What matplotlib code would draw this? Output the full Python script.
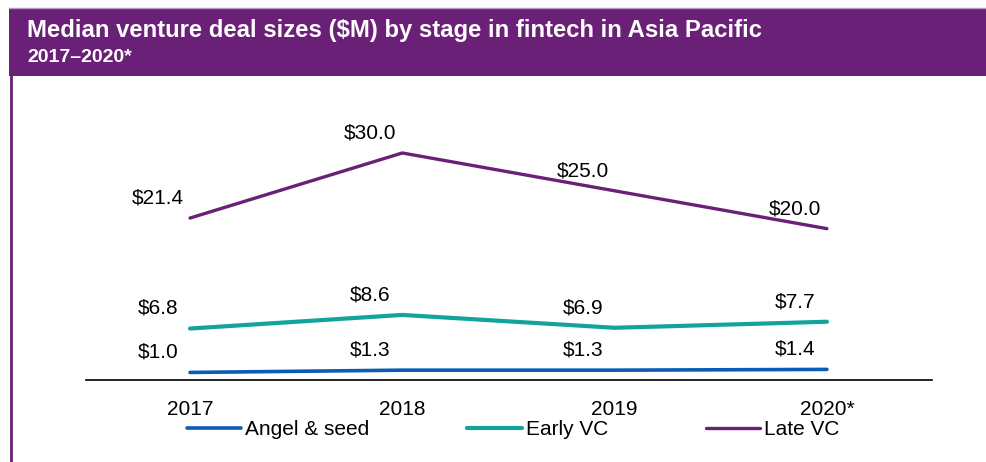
import matplotlib.pyplot as plt
from matplotlib.patches import Rectangle
from matplotlib.lines import Line2D

plt.rcParams['font.family'] = ['Liberation Sans', 'DejaVu Sans']

years = ['2017', '2018', '2019', '2020*']
angel_seed = [1.0, 1.3, 1.3, 1.4]
early_vc = [6.8, 8.6, 6.9, 7.7]
late_vc = [21.4, 30.0, 25.0, 20.0]

purple = '#6b2077'
blue = '#0b5cb5'
teal = '#12a39c'

W, H = 987, 462
fig = plt.figure(figsize=(W / 100, H / 100), dpi=100)

# header band and left rule
fig.patches.append(Rectangle((9 / W, 1 - 76 / H), 1, 68 / H, transform=fig.transFigure,
                             facecolor=purple, edgecolor='none', zorder=0))
fig.lines.append(Line2D([9 / W, 1], [1 - 8 / H, 1 - 8 / H], transform=fig.transFigure,
                        color='#b79bbd', lw=1))
fig.lines.append(Line2D([11 / W, 11 / W], [0, 1 - 76 / H], transform=fig.transFigure,
                        color=purple, lw=2))
fig.text(27 / W, 1 - 31 / H, 'Median venture deal sizes ($M) by stage in fintech in Asia Pacific',
         color='white', fontsize=17.2, fontweight='bold', va='center', ha='left')
fig.text(27 / W, 1 - 58 / H, '2017\u20132020*', color='white', fontsize=14,
         fontweight='bold', va='center', ha='left')

ax = fig.add_axes([86 / W, 1 - 380 / H, (932 - 86) / W, 280 / H])
x = list(range(len(years)))
series = [
    ('Angel & seed', angel_seed, blue, 2.6),
    ('Early VC', early_vc, teal, 3.0),
    ('Late VC', late_vc, purple, 2.4),
]
for name, vals, col, lw in series:
    ax.plot(x, vals, color=col, lw=lw, solid_capstyle='round', label=name)
    # value labels sit up and to the left of each point
    for xi, v in zip(x, vals):
        ax.annotate(f'${v:.1f}', (xi, v), xytext=(-23, 14.5), textcoords='offset points',
                    ha='center', va='center', fontsize=15)

ax.set_xlim(-0.49, 3.495)
ax.set_ylim(0, 37)
for s in ['top', 'right', 'left']:
    ax.spines[s].set_visible(False)
ax.spines['bottom'].set_linewidth(1.2)
ax.set_yticks([])
ax.set_xticks(x)
ax.set_xticklabels(years, fontsize=15)
ax.tick_params(axis='x', length=0, pad=14.5)

ax.legend(loc='center', bbox_to_anchor=(0.505, -0.178), ncol=3, frameon=False,
          fontsize=15, handlelength=2.6, handletextpad=0.2, columnspacing=4.7,
          borderaxespad=0, borderpad=0)

fig.savefig('out.png', dpi=100)
